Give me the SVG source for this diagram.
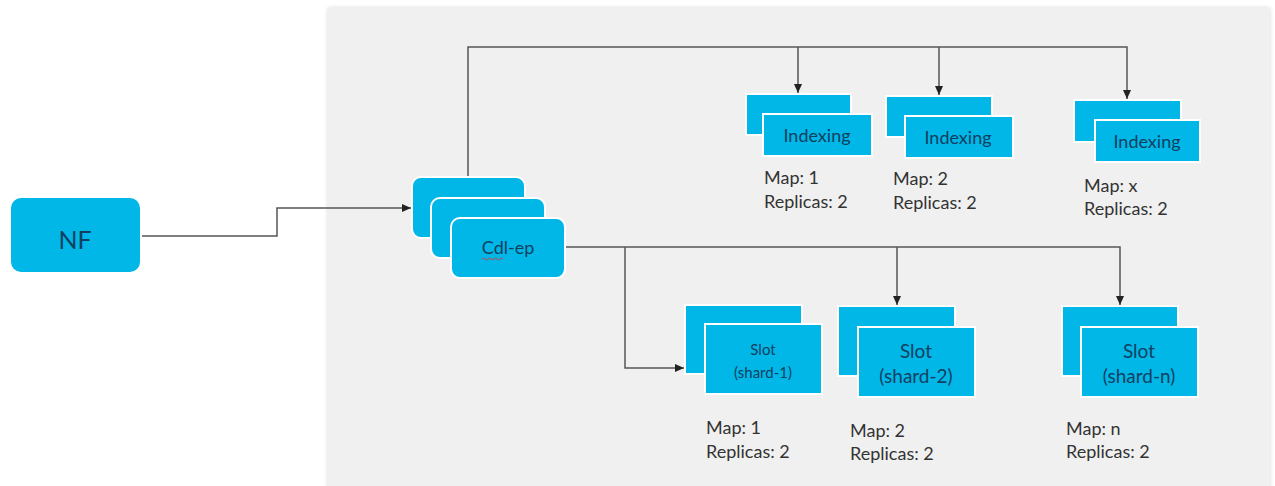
<svg xmlns="http://www.w3.org/2000/svg" width="1275" height="486" viewBox="0 0 1275 486">
<defs>
<marker id="arr" markerWidth="10" markerHeight="10" refX="9" refY="5" orient="auto" markerUnits="userSpaceOnUse">
<path d="M0,1 L9,5 L0,9 Z" fill="#222"/>
</marker>
<filter id="sh" x="-5%" y="-5%" width="110%" height="110%">
<feGaussianBlur stdDeviation="2"/>
</filter>
<style>
.box{fill:#00b7e8;stroke:#ffffff;stroke-width:2}
.bt{font-family:Lato,"Liberation Sans",sans-serif;fill:#12405f;text-anchor:middle}
.lbl{font-family:Lato,"Liberation Sans",sans-serif;font-size:18px;fill:#333}
.con{fill:none;stroke:#555;stroke-width:1.5}
</style>
</defs>
<rect width="1275" height="486" fill="#ffffff"/>
<rect x="328" y="8" width="942" height="490" fill="#d8d8d8" filter="url(#sh)"/>
<rect x="328" y="8" width="942" height="490" fill="#f0f0f0"/>

<g id="connectors">
<path class="con" d="M141,236 H277 V208 H411" marker-end="url(#arr)"/>
<path class="con" d="M468,177 V47 H1127 V99" marker-end="url(#arr)"/>
<path class="con" d="M798,47 V93" marker-end="url(#arr)"/>
<path class="con" d="M939,47 V95" marker-end="url(#arr)"/>
<path class="con" d="M565,247 H1120 V305" marker-end="url(#arr)"/>
<path class="con" d="M897,247 V305" marker-end="url(#arr)"/>
<path class="con" d="M625,247 V368 H684" marker-end="url(#arr)"/>
</g>

<g id="nf">
<rect class="box" x="10" y="197" width="131" height="76" rx="11"/>
<text class="bt" x="75" y="249" font-size="25">NF</text>
</g>

<g id="cdl-ep">
<rect class="box" x="412" y="177" width="113" height="61" rx="9"/>
<rect class="box" x="431" y="198" width="114" height="60" rx="9"/>
<rect class="box" x="451" y="218" width="114" height="60" rx="9"/>
<text class="bt" x="508" y="254" font-size="18">Cdl-ep</text>
<path d="M482,259 q1.5,-2 3,0 t3,0 t3,0 t3,0 t3,0 t3,0 t3,0" fill="none" stroke="#d04040" stroke-width="1"/>
</g>

<g id="indexing-1">
<rect class="box" x="746" y="94" width="105" height="41"/>
<rect class="box" x="763" y="114" width="109" height="42"/>
<text class="bt" x="817" y="142" font-size="18">Indexing</text>
<text class="lbl" x="764" y="184">Map: 1</text>
<text class="lbl" x="764" y="208">Replicas: 2</text>
</g>

<g id="indexing-2">
<rect class="box" x="886" y="96" width="106" height="41"/>
<rect class="box" x="905" y="116" width="108" height="42"/>
<text class="bt" x="958" y="144" font-size="18">Indexing</text>
<text class="lbl" x="893" y="185">Map: 2</text>
<text class="lbl" x="893" y="209">Replicas: 2</text>
</g>

<g id="indexing-x">
<rect class="box" x="1074" y="100" width="107" height="42"/>
<rect class="box" x="1095" y="120" width="105" height="42"/>
<text class="bt" x="1147" y="148" font-size="18">Indexing</text>
<text class="lbl" x="1084" y="192">Map: x</text>
<text class="lbl" x="1084" y="215">Replicas: 2</text>
</g>

<g id="slot-1">
<rect class="box" x="685" y="305" width="117" height="69"/>
<rect class="box" x="705" y="324" width="117" height="70"/>
<text class="bt" x="763" y="355" font-size="15">Slot</text>
<text class="bt" x="763" y="378" font-size="15">(shard-1)</text>
<text class="lbl" x="706" y="434">Map: 1</text>
<text class="lbl" x="706" y="458">Replicas: 2</text>
</g>

<g id="slot-2">
<rect class="box" x="838" y="306" width="117" height="70"/>
<rect class="box" x="858" y="327" width="117" height="70"/>
<text class="bt" x="916" y="358" font-size="19">Slot</text>
<text class="bt" x="916" y="383" font-size="19">(shard-2)</text>
<text class="lbl" x="850" y="437">Map: 2</text>
<text class="lbl" x="850" y="460">Replicas: 2</text>
</g>

<g id="slot-n">
<rect class="box" x="1062" y="306" width="116" height="70"/>
<rect class="box" x="1081" y="327" width="117" height="70"/>
<text class="bt" x="1139" y="358" font-size="19">Slot</text>
<text class="bt" x="1139" y="383" font-size="19">(shard-n)</text>
<text class="lbl" x="1066" y="435">Map: n</text>
<text class="lbl" x="1066" y="458">Replicas: 2</text>
</g>
</svg>
